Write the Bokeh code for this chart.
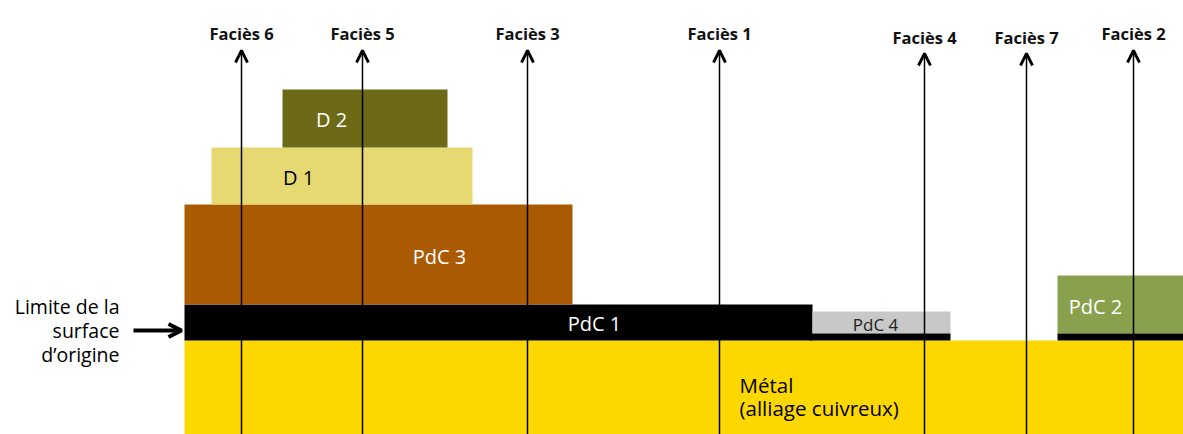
from bokeh.plotting import figure
from bokeh.models import Range1d, Arrow, OpenHead, ColumnDataSource
from bokeh.core.properties import value
from bokeh.embed import file_html
from bokeh.resources import INLINE

FONT = "Open Sans"

# Layers (horizontal extent x0..x1, vertical extent top..bottom, scheme units)
layer_names = ["Métal", "PdC 1", "PdC 3", "D 1", "D 2", "PdC 4", "PdC 2"]
layer_x0 = [184, 184, 184, 211, 282, 812, 1057]
layer_x1 = [1183, 812, 572, 472, 447, 950, 1183]
layer_top = [340, 304, 204, 147, 89, 311, 275]
layer_bottom = [434, 340, 304, 204, 147, 333, 333]
layer_colors = ["#FDD700", "#000000", "#AB5A04", "#E6D971", "#6C6A16", "#C8C8C8", "#89A14D"]

# thin black crusts under PdC 4 and PdC 2
crust_x0 = [809, 1057]
crust_x1 = [950, 1183]
crust_top = [333, 333]
crust_bottom = [340, 340]

# layer labels
lab_text = ["D 2", "D 1", "PdC 3", "PdC 1", "PdC 4", "PdC 2"]
lab_x = [331, 298, 439, 594, 875, 1095]
lab_y = [119, 177, 256, 323, 324, 306]
lab_color = ["white", "black", "white", "white", "#222222", "white"]
lab_size = ["20px", "20px", "20px", "20px", "17px", "20px"]

# Facies
facies_names = ["Faciès 6", "Faciès 5", "Faciès 3", "Faciès 1", "Faciès 4", "Faciès 7", "Faciès 2"]
facies_x = [241, 362, 527, 719, 924, 1026, 1133]
facies_tip = [50, 50, 50, 50, 53, 53, 50]
facies_label_y = [33, 33, 33, 33, 37, 37, 33]

p = figure(width=1183, height=434, output_backend="svg", toolbar_location=None,
           x_range=Range1d(0, 1183), y_range=Range1d(434, 0),
           min_border=0, outline_line_color=None)
p.axis.visible = False
p.xgrid.visible = False
p.ygrid.visible = False
p.background_fill_color = "white"

p.quad(left=layer_x0, right=layer_x1, top=layer_top, bottom=layer_bottom,
       fill_color=layer_colors, line_color=None)
p.quad(left=crust_x0, right=crust_x1, top=crust_top, bottom=crust_bottom,
       fill_color="black", line_color=None)

for x, tip in zip(facies_x, facies_tip):
    p.add_layout(Arrow(x_start=x, y_start=434, x_end=x, y_end=tip,
                       line_color="black", line_width=1.5,
                       end=OpenHead(size=12, line_width=2.8, line_color="black")))

p.text(x=facies_x, y=facies_label_y, text=facies_names, text_align="center",
       text_baseline="middle", text_font=value(FONT), text_font_size="16.5px",
       text_font_style="bold", text_color="#111111")

src = ColumnDataSource(dict(x=lab_x, y=lab_y, t=lab_text, c=lab_color, s=lab_size))
p.text(x="x", y="y", text="t", text_color="c", text_font_size="s", source=src,
       text_align="center", text_baseline="middle", text_font=value(FONT))

p.text(x=[739, 739], y=[384, 407], text=["Métal", "(alliage cuivreux)"],
       text_align="left", text_baseline="middle", text_font=value(FONT),
       text_font_size="20.5px", text_color="black")

p.text(x=[119, 119, 119], y=[306, 330, 354], text=["Limite de la", "surface", "d\u2019origine"],
       text_align="right", text_baseline="middle", text_font=value(FONT),
       text_font_size="19.5px", text_color="black")

p.add_layout(Arrow(x_start=133, y_start=330, x_end=181, y_end=330,
                   line_color="black", line_width=4,
                   end=OpenHead(size=13, line_width=4, line_color="black")))

open("out.html", "w").write(file_html(p, INLINE))
